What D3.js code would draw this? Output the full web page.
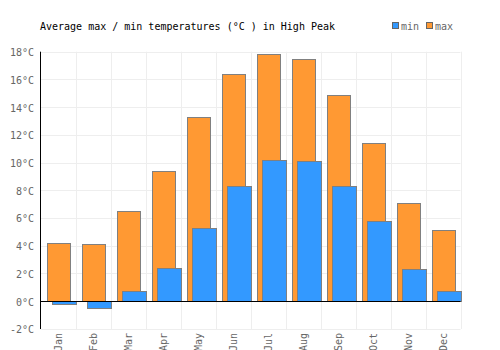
<!DOCTYPE html>
<html><head><meta charset="utf-8">
<script src="https://cdn.jsdelivr.net/npm/d3@7"></script>
<style>body{margin:0;background:#fff}svg{display:block}</style>
</head><body>
<script>
const months = ["Jan","Feb","Mar","Apr","May","Jun","Jul","Aug","Sep","Oct","Nov","Dec"];
const maxTemps = [4.2,4.1,6.5,9.4,13.3,16.4,17.8,17.5,14.9,11.4,7.1,5.1];
const minTemps = [-0.2,-0.5,0.7,2.4,5.3,8.3,10.2,10.1,8.3,5.8,2.3,0.7];
const yTicks = [-2,0,2,4,6,8,10,12,14,16,18];
const titleText = "Average max / min temperatures (°C ) in High Peak";

const W=500,H=350;
const svg=d3.select("body").append("svg").attr("width",W).attr("height",H);
const font="'DejaVu Sans Mono', monospace";
const x=d3.scaleBand().domain(months).range([40.5,460.5]).padding(0);
const y=d3.scaleLinear().domain([-2,18]).range([328.7,51.7]);

// grid
svg.append("g").selectAll("line").data(yTicks).join("line")
 .attr("x1",40.5).attr("x2",460.5).attr("y1",d=>Math.round(y(d))+0.5).attr("y2",d=>Math.round(y(d))+0.5)
 .attr("stroke","#eeeeee");
svg.append("g").selectAll("line").data(months).join("line")
 .attr("x1",d=>Math.round(x(d)+x.bandwidth())+0.5).attr("x2",d=>Math.round(x(d)+x.bandwidth())+0.5)
 .attr("y1",51.7).attr("y2",329).attr("stroke","#eeeeee");

// y labels
svg.append("g").selectAll("text").data(yTicks).join("text")
 .attr("x",34).attr("y",d=>y(d)+4.5).attr("text-anchor","end")
 .attr("font-family",font).attr("font-size",10).attr("fill","#666")
 .text(d=>d+"°C");

// bars max
const bw=x.bandwidth();
svg.append("g").selectAll("rect").data(months).join("rect")
 .attr("x",(d,i)=>Math.round(x(d)+6)+0.5).attr("width",23)
 .attr("y",(d,i)=>Math.round(y(Math.max(0,maxTemps[i])))+0.5)
 .attr("height",(d,i)=>Math.abs(Math.round(y(maxTemps[i]))-Math.round(y(0))))
 .attr("fill","#ff9933").attr("stroke","#808080").attr("stroke-width",1);
// bars min
svg.append("g").selectAll("rect").data(months).join("rect")
 .attr("x",(d,i)=>Math.round(x(d)+11)+0.5).attr("width",24)
 .attr("y",(d,i)=>Math.round(y(Math.max(0,minTemps[i])))+0.5)
 .attr("height",(d,i)=>Math.abs(Math.round(y(minTemps[i]))-Math.round(y(0))))
 .attr("fill","#3399ff").attr("stroke","#808080").attr("stroke-width",1);

// axes
svg.append("line").attr("x1",40.5).attr("x2",40.5).attr("y1",51.7).attr("y2",329).attr("stroke","#000");
svg.append("line").attr("x1",40.5).attr("x2",460.5).attr("y1",Math.round(y(0))+0.5).attr("y2",Math.round(y(0))+0.5).attr("stroke","#000");

// x labels
svg.append("g").selectAll("text").data(months).join("text")
 .attr("transform",d=>`translate(${x(d)+bw/2+4},333) rotate(-90)`)
 .attr("text-anchor","end").attr("font-family",font).attr("font-size",10).attr("fill","#666")
 .text(d=>d);

// title
svg.append("text").attr("x",40).attr("y",30).attr("font-family",font).attr("font-size",10)
 .attr("fill","#000").text(titleText);

// legend
const leg=[["min","#3399ff",392],["max","#ff9933",426]];
leg.forEach(([t,c,lx])=>{
 svg.append("rect").attr("x",lx+0.5).attr("y",22.5).attr("width",6).attr("height",6).attr("fill",c).attr("stroke","#666");
 svg.append("text").attr("x",lx+9).attr("y",30).attr("font-family",font).attr("font-size",10).attr("fill","#666").text(t);
});
</script>
</body></html>
